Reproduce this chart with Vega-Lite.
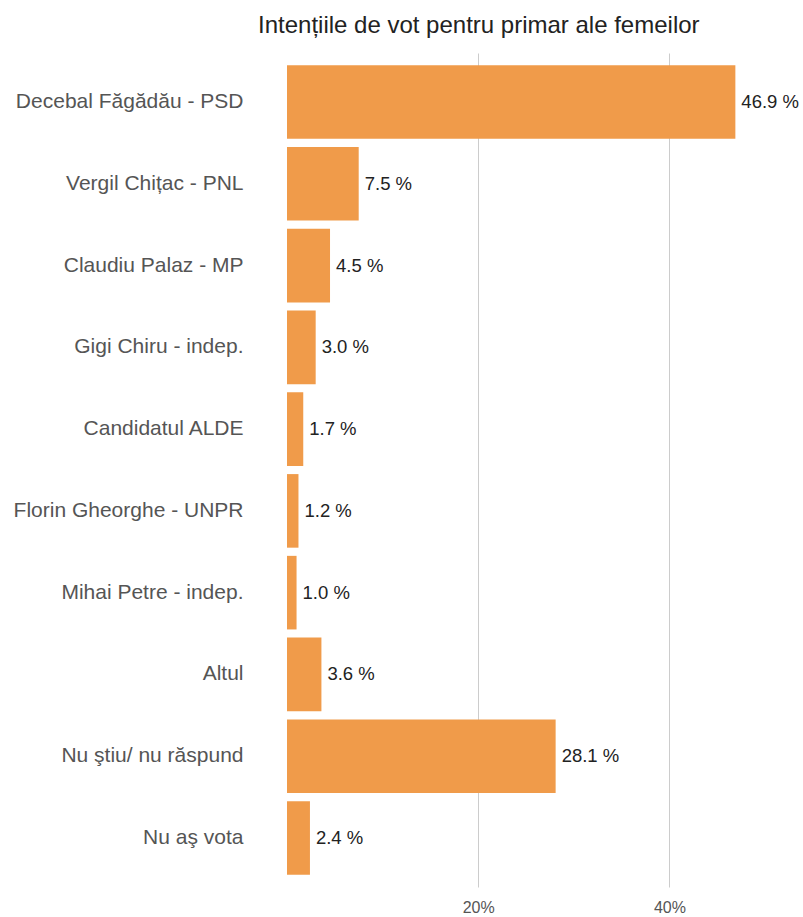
{
  "$schema": "https://vega.github.io/schema/vega-lite/v6.json",
  "autosize": {"type": "none"},
  "padding": {"left": 287, "top": 53, "right": 38, "bottom": 30},
  "width": 478,
  "height": 834,
  "title": {
    "text": "Intențiile de vot pentru primar ale femeilor",
    "anchor": "start",
    "frame": "group",
    "dx": -29,
    "dy": 22,
    "fontSize": 24,
    "fontWeight": "normal",
    "color": "#222222",
    "baseline": "bottom",
    "offset": 13
  },
  "config": {
    "font": "Liberation Sans, Arial, sans-serif",
    "view": {"stroke": null}
  },
  "data": {
    "values": [
      {"candidat": "Decebal Făgădău - PSD", "procent": 46.9},
      {"candidat": "Vergil Chițac - PNL", "procent": 7.5},
      {"candidat": "Claudiu Palaz - MP", "procent": 4.5},
      {"candidat": "Gigi Chiru - indep.", "procent": 3.0},
      {"candidat": "Candidatul ALDE", "procent": 1.7},
      {"candidat": "Florin Gheorghe - UNPR", "procent": 1.2},
      {"candidat": "Mihai Petre - indep.", "procent": 1.0},
      {"candidat": "Altul", "procent": 3.6},
      {"candidat": "Nu ştiu/ nu răspund", "procent": 28.1},
      {"candidat": "Nu aş vota", "procent": 2.4}
    ]
  },
  "encoding": {
    "y": {
      "field": "candidat",
      "type": "nominal",
      "sort": null,
      "scale": {"paddingInner": 0.1, "paddingOuter": 0.15},
      "axis": {
        "title": null,
        "ticks": false,
        "domain": false,
        "labelPadding": 44,
        "labelFontSize": 21,
        "labelColor": "#555555",
        "labelLimit": 320
      }
    },
    "x": {
      "field": "procent",
      "type": "quantitative",
      "scale": {"domain": [0, 50], "nice": false},
      "axis": {
        "title": null,
        "values": [20, 40],
        "labelExpr": "datum.value + '%'",
        "ticks": false,
        "domain": false,
        "grid": true,
        "gridColor": "#cccccc",
        "labelFontSize": 16,
        "labelColor": "#555555",
        "labelPadding": 12
      }
    }
  },
  "layer": [
    {
      "mark": {"type": "bar", "color": "#f09b4a"}
    },
    {
      "mark": {
        "type": "text",
        "align": "left",
        "baseline": "middle",
        "dx": 6,
        "fontSize": 18.5,
        "color": "#222222",
        "text": {"expr": "format(datum.procent, '.1f') + ' %'"}
      }
    }
  ]
}
